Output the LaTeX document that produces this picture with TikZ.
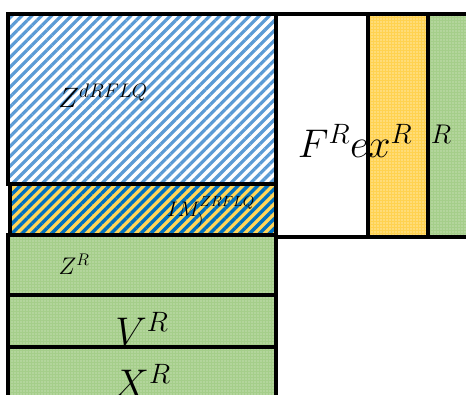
\RequirePackage{fix-cm}
\documentclass[tikz,border=0pt]{standalone}
\usepackage{amsmath}
\usetikzlibrary{patterns.meta}
\definecolor{stripeblue}{RGB}{91,155,213}
\definecolor{deepblue}{RGB}{0,112,192}
\definecolor{goldfill}{RGB}{255,210,80}
\definecolor{lightgold}{RGB}{255,214,90}
\definecolor{leafgreen}{RGB}{165,206,138}
\tikzset{
  block/.style={draw=black,line width=3.4pt},
  bluelines/.style={pattern={Lines[angle=45,distance=7pt,line width=3.2pt]},pattern color=stripeblue},
  mixlines/.style={preaction={fill=lightgold},pattern={Lines[angle=45,distance=7pt,line width=3.4pt]},pattern color=deepblue},
  golddots/.style={preaction={fill=goldfill},pattern={Dots[distance=3pt,radius=0.7pt]},pattern color=white},
  greendots/.style={preaction={fill=leafgreen},pattern={Dots[distance=3pt,radius=0.7pt]},pattern color=white!70!leafgreen},
  lbl/.style={inner sep=0pt,text=black}
}

\begin{document}
\begin{tikzpicture}[x=1pt,y=-1pt]
    \useasboundingbox (0,0) rectangle (466,394);
    \clip (0,0) rectangle (466,394);

    \fill[white] (0,0) rectangle (466,394);

    \draw[block,bluelines] (8,14) rectangle (276,184);
    \draw[block,mixlines] (10,184) rectangle (276,235);
    \draw[block,greendots] (8,235) rectangle (276,295);
    \draw[block,greendots] (8,295) rectangle (276,347);
    \draw[block,greendots] (8,347) rectangle (276,410);

    \draw[block,fill=white] (276,14) rectangle (368,237);
    \draw[block,golddots] (368,14) rectangle (428,237);
    \draw[block,greendots] (428,14) rectangle (480,237);

    \node[lbl] (zdual) at (103,96) {\fontsize{28}{30}\selectfont $Z^{dRFLQ}$};
    \node[lbl] (imz) at (211,212) {\fontsize{21}{24}\selectfont $IM^{ZRFLQ}_{)}$};
    \node[lbl] (zr) at (74,264) {\fontsize{24}{26}\selectfont $Z^{R}$};
    \node[lbl] (vr) at (142,329) {\fontsize{40}{44}\selectfont $V^{R}$};
    \node[lbl] (xr) at (142,381) {\fontsize{40}{44}\selectfont $X^{R}$};
    \node[lbl] (frex) at (355,141) {\fontsize{40}{44}\selectfont $F^{R}ex^{R}$};
    \node[lbl] (rr) at (441,134) {\fontsize{27}{30}\selectfont $R$};
\end{tikzpicture}
\end{document}
